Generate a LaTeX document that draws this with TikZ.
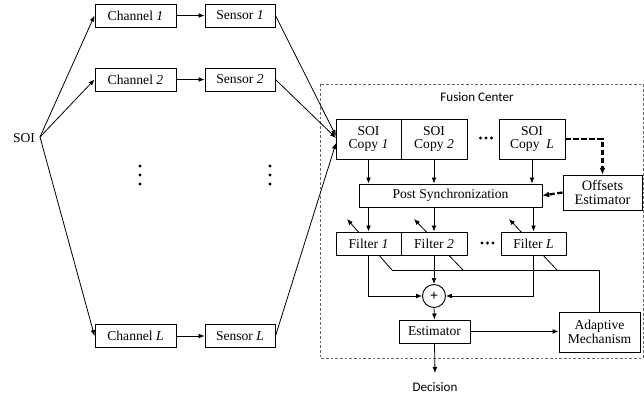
\documentclass[tikz,border=0pt]{standalone}
\usepackage{fontspec}
\setmainfont{Liberation Serif}
\newfontfamily\labelfont{Carlito}
\usetikzlibrary{arrows.meta}
\tikzset{
  box/.style={draw, fill=white, line width=0.7pt, inner sep=0pt, align=center,
    font=\fontsize{10.2}{11.4}\selectfont},
  sz/.style 2 args={minimum width=#1*0.75pt, minimum height=#2*0.75pt},
  conn/.style={line width=0.6pt, -{Latex[length=4.5pt,width=3.6pt]}},
  plain/.style={line width=0.6pt},
  thickdash/.style={line width=1.7pt, dash pattern=on 4pt off 2pt,
    -{Latex[length=5pt,width=4.5pt]}},
  lbl/.style={font=\labelfont\fontsize{9.8}{11}\selectfont, inner sep=0pt},
  dotmark/.style={circle, fill=black, inner sep=0pt, minimum size=2.4pt}
}
\begin{document}
\begin{tikzpicture}[x=0.75pt,y=-0.75pt]
\useasboundingbox (0,0) rectangle (644,393);

% source
\node[font=\fontsize{10.2}{11.4}\selectfont, inner sep=0pt] (soi) at (24,138) {SOI};
\coordinate (src) at (40,137);

% sensing branches
\node[box, sz={81}{23}] (ch1) at (135.5,15.5) {Channel \textit{1}};
\node[box, sz={81}{23}] (ch2) at (135.5,79.5) {Channel \textit{2}};
\node[box, sz={81}{23}] (chL) at (135.5,336) {Channel \textit{L}};
\node[box, sz={70}{23}] (se1) at (240,15.5) {Sensor \textit{1}};
\node[box, sz={70}{23}] (se2) at (240,79.5) {Sensor \textit{2}};
\node[box, sz={70}{23}] (seL) at (240,336) {Sensor \textit{L}};

\foreach \y [count=\i] in {166,175,184} {
  \node[dotmark] (vl\i) at (140,\y) {};
  \node[dotmark] (vr\i) at (270,\y) {};
}

\draw[conn] (src) -- (ch1.west);
\draw[conn] (src) -- (ch2.west);
\draw[conn] (src) -- (chL.west);
\draw[conn] (ch1) -- (se1);
\draw[conn] (ch2) -- (se2);
\draw[conn] (chL) -- (seL);

% fusion center frame
\draw[gray!80!black, line width=0.6pt, dash pattern=on 2pt off 1.5pt]
  (320,84) rectangle (643,358);
\node[lbl] (fc) at (477,97) {Fusion Center};

% signal copies
\node[box, sz={65}{40}] (cp1) at (368.5,139) {SOI\\[-2pt]Copy \textit{1}};
\node[box, sz={66}{40}] (cp2) at (434,139) {SOI\\[-2pt]Copy \textit{2}};
\node[box, sz={66}{40}] (cpL) at (532,139) {SOI\\[-2pt]Copy\ \ \textit{L}};
\foreach \x [count=\i] in {480.5,486,491.5} \node[dotmark] (hc\i) at (\x,138) {};

\coordinate (in1) at (336,136);
\coordinate (in2) at (336,138);
\coordinate (inL) at (336,143);
\draw[conn] (se1.east) -- (in1);
\draw[conn] (se2.east) -- (in2);
\draw[conn] (seL.east) -- (inL);

% synchronization and offset estimation
\node[box, sz={183}{23}] (ps) at (450.5,195.5) {Post Synchronization};
\node[box, sz={79}{35}, font=\fontsize{10.8}{12}\selectfont] (oe) at (602.5,192.5) {Offsets\\[-2pt]Estimator};

\draw[conn] (cp1.south) -- (cp1.south |- ps.north);
\draw[conn] (cp2.south) -- (cp2.south |- ps.north);
\draw[conn] (cpL.south) -- (cpL.south |- ps.north);
\draw[thickdash] (cpL.east) -| (oe.north);
\draw[thickdash] (oe.west) -- (ps.east);

% adaptation paths (drawn beneath the filter boxes)
\node[box, sz={81}{40}] (am) at (599.5,332) {Adaptive\\[-1pt]Mechanism};
\coordinate (ad1) at (392,270);
\coordinate (ad2) at (463,270);
\coordinate (adL) at (557,270);
\coordinate (tp1) at (347,219);
\coordinate (tp2) at (414,219);
\coordinate (tpL) at (509,219);
\draw[plain] (am.north) |- (ad1);
\draw[conn] (ad1) -- (tp1);
\draw[conn] (ad2) -- (tp2);
\draw[conn] (adL) -- (tpL);

% adaptive filters
\node[box, sz={65}{23}] (f1) at (368.5,243.5) {Filter \textit{1}};
\node[box, sz={66}{23}] (f2) at (434,243.5) {Filter \textit{2}};
\node[box, sz={65}{23}] (fL) at (533.5,243.5) {Filter \textit{L}};
\foreach \x [count=\i] in {482,487.5,493} \node[dotmark] (hf\i) at (\x,243) {};

\draw[conn] (ps.south -| f1.north) -- (f1.north);
\draw[conn] (ps.south -| f2.north) -- (f2.north);
\draw[conn] (ps.south -| fL.north) -- (fL.north);

% combiner
\node[draw, circle, line width=0.7pt, minimum size=23*0.75pt, inner sep=0pt,
  font=\bfseries\fontsize{11}{11}\selectfont] (sum) at (434,296) {+};
\draw[conn] (f1.south) |- (sum.west);
\draw[conn] (f2.south) -- (sum.north);
\draw[conn] (fL.south) |- (sum.east);

% estimation and decision
\node[box, sz={71}{23}] (est) at (434.5,331.5) {Estimator};
\draw[conn] (sum.south) -- (est.north);
\draw[conn] (est.east) -- (am.west |- est.east);
\node[lbl] (dec) at (435,387) {Decision};
\coordinate (decin) at (435,373);
\draw[conn] (est.south) -- (decin);
\end{tikzpicture}
\end{document}
